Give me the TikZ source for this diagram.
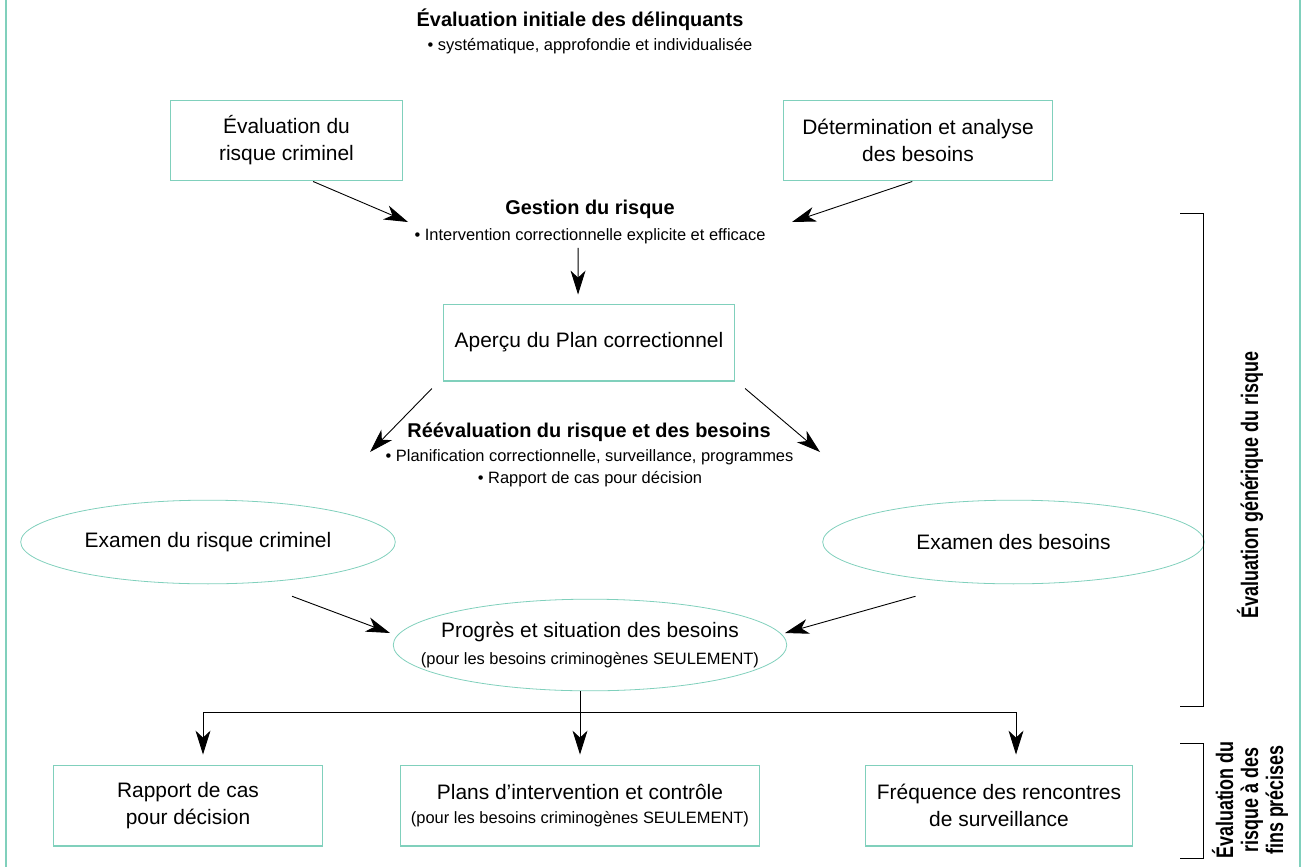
\documentclass[tikz,border=0pt]{standalone}
\usepackage{fontspec}
\setmainfont{Liberation Sans}
\newfontfamily\sidefont{Liberation Sans}[FakeStretch=0.75]
\usetikzlibrary{arrows.meta,shapes.geometric}
\definecolor{rim}{RGB}{128,208,188}
\newcommand\bodysz{\fontsize{21}{27}\selectfont}
\newcommand\smallsz{\fontsize{16.5}{22}\selectfont}
\newcommand\headsz{\fontsize{20}{24}\selectfont\bfseries}
\newcommand\sidesz{\sidefont\bfseries\fontsize{24}{25}\selectfont}
\tikzset{
	box/.style={draw=rim, line width=1.3pt, minimum height=81, inner sep=0pt, align=center, font=\bodysz},
	oval/.style={ellipse, draw=rim, line width=0.8pt, inner sep=0pt, align=center, font=\bodysz},
	arr/.style={-{Stealth[length=24pt,width=15pt,inset=7pt]}, line width=0.9pt},
	lbl/.style={inner sep=0pt, align=center},
}

\begin{document}
\begin{tikzpicture}[x=1bp,y=-1bp]
		%%%%% START %%%%%
		\useasboundingbox (0,0) rectangle (1303,867);
		
		\draw[rim, line width=2pt] (6,0) -- (6,867);
		\draw[rim, line width=2.5pt] (1300,0) -- (1300,867);
		
		\node[lbl, font=\headsz] (titre) at (580,20) {Évaluation initiale des délinquants};
		\node[lbl, font=\smallsz] (titrept) at (590,46) {• systématique, approfondie et individualisée};
		
		\node[box, minimum width=233] (crim) at (286.5,140.5) {Évaluation du\\risque criminel};
		\node[box, minimum width=270] (besoins) at (918,140.5) {Détermination et analyse\\des besoins};
		
		\node[lbl, font=\headsz] (gestion) at (590,209) {Gestion du risque};
		\node[lbl, font=\smallsz] (gestionpt) at (590,236) {• Intervention correctionnelle explicite et efficace};
		\coordinate (gl) at (408,222);
		\coordinate (gr) at (792,222);
		\draw[arr] (crim.-57) -- (gl);
		\draw[arr] (besoins.-98) -- (gr);
		
		\node[box, minimum width=292, minimum height=77] (apercu) at (589,342.5) {Aperçu du Plan correctionnel};
		\draw[arr, shorten <=4, shorten >=9] ([xshift=-12]gestionpt.south) -- ([xshift=-11]apercu.north);
		
		\node[lbl, font=\headsz] (reeval) at (589,432) {Réévaluation du risque et des besoins};
		\node[lbl, font=\smallsz] (reevalpt) at (589.5,457) {• Planification correctionnelle, surveillance, programmes};
		\node[lbl, font=\smallsz] (reevalcas) at (590,479) {• Rapport de cas pour décision};
		\coordinate (rl) at (370,452);
		\coordinate (rr) at (820,452);
		\draw[arr] ([shift={(-11,7)}]apercu.south west) -- (rl);
		\draw[arr] ([shift={(10,7)}]apercu.south east) -- (rr);
		
		\node[oval, minimum width=376, minimum height=84] (exrisque) at (208,542) {Examen du risque criminel};
		\node[oval, minimum width=383, minimum height=84] (exbesoins) at (1013.5,542) {Examen des besoins};
		
		\node[oval, inner xsep=-30pt, minimum width=394, minimum height=92] (progres) at (590,645) {Progrès et situation des besoins\\{\smallsz (pour les besoins criminogènes SEULEMENT)}};
		\coordinate (pl) at (390,633);
		\coordinate (pr) at (785,633);
		\draw[arr] ([shift={(84,12)}]exrisque.south) -- (pl);
		\draw[arr] ([shift={(-98,12)}]exbesoins.south) -- (pr);
		
		\node[box, minimum width=270] (rapport) at (188,805.5) {Rapport de cas\\pour décision};
		\node[box, minimum width=360] (plans) at (580,805.5) {Plans d’intervention et contrôle\\[-3pt]{\smallsz (pour les besoins criminogènes SEULEMENT)}};
		\node[box, minimum width=268] (freq) at (999,805.5) {Fréquence des rencontres\\de surveillance};
		
		\coordinate (hl) at (203,712);
		\coordinate (hr) at (1016,712);
		\draw[line width=0.9pt] (hl) -- (hr);
		\draw[arr, shorten >=10] (progres.south -| plans.north) -- (plans.north);
		\draw[arr, shorten >=10] (hl) -- (hl |- rapport.north);
		\draw[arr, shorten >=10] (hr) -- (hr |- freq.north);
		
		\draw[line width=0.9pt] (1180,213) -| (1203,706) -- (1180,706);
		\draw[line width=0.9pt] (1180,743) -| (1203,858) -- (1180,858);
		\node[lbl, font=\sidesz, rotate=90] (sidegen) at (1250,485) {Évaluation générique du risque};
		\node[lbl, font=\sidesz, rotate=90] (sidefins) at (1250,800) {Évaluation du\\risque à des\\fins précises};
		
		%%%%% END %%%%%
\end{tikzpicture}
\end{document}
